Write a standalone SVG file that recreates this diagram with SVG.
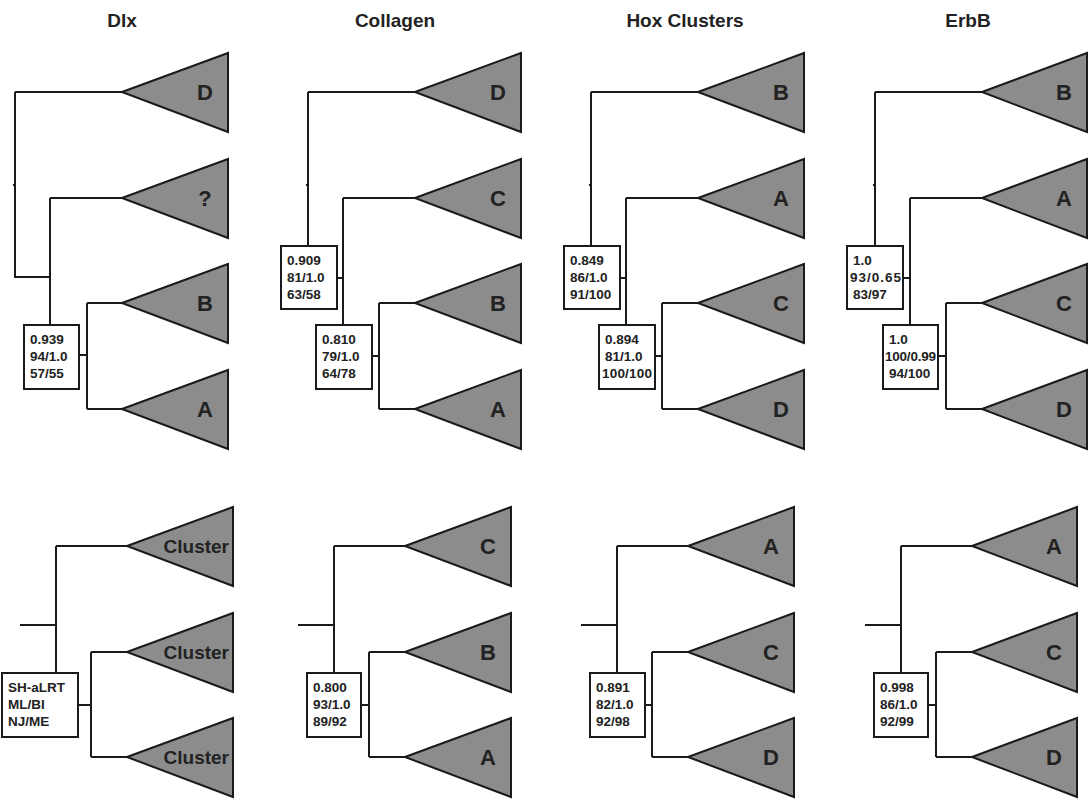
<svg xmlns="http://www.w3.org/2000/svg" width="1090" height="800" viewBox="0 0 1090 800">
<style>
.tri{fill:#8c8c8c;stroke:#1a1a1a;stroke-width:2}
.ln{fill:none;stroke:#1a1a1a;stroke-width:2}
.box{fill:#fff;stroke:#1a1a1a;stroke-width:2}
.t{font-family:"Liberation Sans",Arial,sans-serif;font-weight:bold;fill:#222}
.h{font-size:19px;text-anchor:middle}
.lab{font-size:22px;text-anchor:middle}
.cl{font-size:19px;text-anchor:end}
.bx{font-size:13.5px}
</style>
<rect width="1090" height="800" fill="#fff"/>
<g id="titles" class="t h">
<text x="122" y="27">Dlx</text>
<text x="395" y="27">Collagen</text>
<text x="685" y="27">Hox Clusters</text>
<text x="968" y="27">ErbB</text>
</g>
<g id="connectors" class="ln">
<path d="M13 185H15M15 92H122M15 92V277H50M50 198H122M50 198V325M79 355H87M87 303V409M87 303H122M87 409H122"/>
<path d="M306 185H308M308 92H415M308 92V246M337 278H343M343 198H415M343 198V325M372 356H379M379 303V409M379 303H415M379 409H415"/>
<path d="M589 185H591M591 92H698M591 92V246M620 278H626M626 198H698M626 198V325M655 356H662M662 303V409M662 303H698M662 409H698"/>
<path d="M873 185H875M875 92H982M875 92V246M904 278H910M910 198H982M910 198V325M939 356H946M946 303V409M946 303H982M946 409H982"/>
<path d="M20 625H56M56 546V673M56 546H127M78 705H91M91 652V757M91 652H127M91 757H127"/>
<path d="M298 625H334M334 546V673M334 546H405M361 705H369M369 652V757M369 652H405M369 757H405"/>
<path d="M581 625H617M617 546V673M617 546H688M645 705H652M652 652V757M652 652H688M652 757H688"/>
<path d="M865 625H901M901 546V673M901 546H972M928 705H936M936 652V757M936 652H972M936 757H972"/>
</g>
<g id="dlx-top">
<polygon class="tri" points="122,92 228,53 228,132"/><text class="t lab" x="205" y="100">D</text>
<polygon class="tri" points="122,198 228,159 228,238"/><text class="t lab" x="205" y="206">?</text>
<polygon class="tri" points="122,303 228,264 228,343"/><text class="t lab" x="205" y="311">B</text>
<polygon class="tri" points="122,409 228,370 228,449"/><text class="t lab" x="205" y="417">A</text>
<rect class="box" x="24" y="325" width="55" height="64"/>
<text class="t bx" x="30" y="344">0.939</text><text class="t bx" x="30" y="361">94/1.0</text><text class="t bx" x="30" y="378">57/55</text>
</g>
<g id="collagen-top">
<polygon class="tri" points="415,92 521,53 521,132"/><text class="t lab" x="498" y="100">D</text>
<polygon class="tri" points="415,198 521,159 521,238"/><text class="t lab" x="498" y="206">C</text>
<polygon class="tri" points="415,303 521,264 521,343"/><text class="t lab" x="498" y="311">B</text>
<polygon class="tri" points="415,409 521,370 521,449"/><text class="t lab" x="498" y="417">A</text>
<rect class="box" x="281" y="246" width="56" height="63"/>
<text class="t bx" x="287" y="265">0.909</text><text class="t bx" x="287" y="282">81/1.0</text><text class="t bx" x="287" y="299">63/58</text>
<rect class="box" x="316" y="325" width="56" height="64"/>
<text class="t bx" x="322" y="344">0.810</text><text class="t bx" x="322" y="361">79/1.0</text><text class="t bx" x="322" y="378">64/78</text>
</g>
<g id="hox-top">
<polygon class="tri" points="698,92 804,53 804,132"/><text class="t lab" x="781" y="100">B</text>
<polygon class="tri" points="698,198 804,159 804,238"/><text class="t lab" x="781" y="206">A</text>
<polygon class="tri" points="698,303 804,264 804,343"/><text class="t lab" x="781" y="311">C</text>
<polygon class="tri" points="698,409 804,370 804,449"/><text class="t lab" x="781" y="417">D</text>
<rect class="box" x="564" y="246" width="56" height="63"/>
<text class="t bx" x="570" y="265">0.849</text><text class="t bx" x="570" y="282">86/1.0</text><text class="t bx" x="570" y="299">91/100</text>
<rect class="box" x="599" y="325" width="56" height="64"/>
<text class="t bx" x="605" y="344">0.894</text><text class="t bx" x="605" y="361">81/1.0</text><text class="t bx" x="602" y="378" textLength="50">100/100</text>
</g>
<g id="erbb-top">
<polygon class="tri" points="982,92 1087,53 1087,132"/><text class="t lab" x="1064" y="100">B</text>
<polygon class="tri" points="982,198 1087,159 1087,238"/><text class="t lab" x="1064" y="206">A</text>
<polygon class="tri" points="982,303 1087,264 1087,343"/><text class="t lab" x="1064" y="311">C</text>
<polygon class="tri" points="982,409 1087,370 1087,449"/><text class="t lab" x="1064" y="417">D</text>
<rect class="box" x="847" y="246" width="56" height="63"/>
<text class="t bx" x="853" y="265">1.0</text><text class="t bx" x="850" y="282" textLength="51">93/0.65</text><text class="t bx" x="853" y="299">83/97</text>
<rect class="box" x="883" y="325" width="55" height="64"/>
<text class="t bx" x="889" y="344">1.0</text><text class="t bx" x="885" y="361" textLength="51">100/0.99</text><text class="t bx" x="889" y="378">94/100</text>
</g>
<g id="dlx-bottom">
<polygon class="tri" points="127,546 233,507 233,586"/><text class="t cl" x="229" y="553">Cluster</text>
<polygon class="tri" points="127,652 233,613 233,692"/><text class="t cl" x="229" y="659">Cluster</text>
<polygon class="tri" points="127,757 233,718 233,797"/><text class="t cl" x="229" y="764">Cluster</text>
<rect class="box" x="2" y="673" width="76" height="64"/>
<text class="t bx" x="8" y="692">SH-aLRT</text><text class="t bx" x="8" y="709">ML/BI</text><text class="t bx" x="8" y="726">NJ/ME</text>
</g>
<g id="collagen-bottom">
<polygon class="tri" points="405,546 511,507 511,586"/><text class="t lab" x="488" y="554">C</text>
<polygon class="tri" points="405,652 511,613 511,692"/><text class="t lab" x="488" y="660">B</text>
<polygon class="tri" points="405,757 511,718 511,797"/><text class="t lab" x="488" y="765">A</text>
<rect class="box" x="307" y="673" width="54" height="64"/>
<text class="t bx" x="313" y="692">0.800</text><text class="t bx" x="313" y="709">93/1.0</text><text class="t bx" x="313" y="726">89/92</text>
</g>
<g id="hox-bottom">
<polygon class="tri" points="688,546 794,507 794,586"/><text class="t lab" x="771" y="554">A</text>
<polygon class="tri" points="688,652 794,613 794,692"/><text class="t lab" x="771" y="660">C</text>
<polygon class="tri" points="688,757 794,718 794,797"/><text class="t lab" x="771" y="765">D</text>
<rect class="box" x="590" y="673" width="55" height="64"/>
<text class="t bx" x="596" y="692">0.891</text><text class="t bx" x="596" y="709">82/1.0</text><text class="t bx" x="596" y="726">92/98</text>
</g>
<g id="erbb-bottom">
<polygon class="tri" points="972,546 1077,507 1077,586"/><text class="t lab" x="1054" y="554">A</text>
<polygon class="tri" points="972,652 1077,613 1077,692"/><text class="t lab" x="1054" y="660">C</text>
<polygon class="tri" points="972,757 1077,718 1077,797"/><text class="t lab" x="1054" y="765">D</text>
<rect class="box" x="874" y="673" width="54" height="64"/>
<text class="t bx" x="880" y="692">0.998</text><text class="t bx" x="880" y="709">86/1.0</text><text class="t bx" x="880" y="726">92/99</text>
</g>
</svg>
